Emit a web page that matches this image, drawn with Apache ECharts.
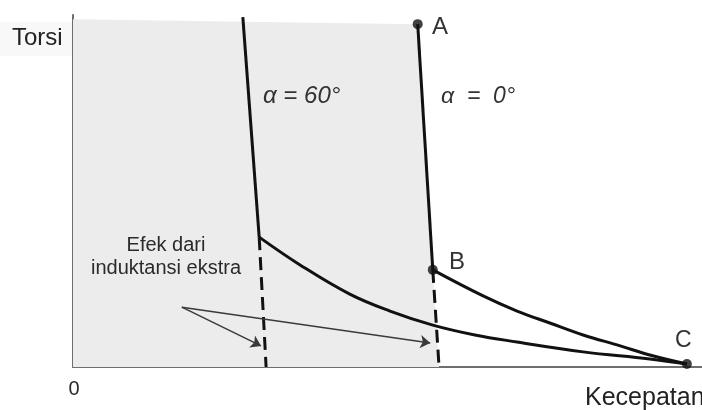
<!DOCTYPE html>
<html>
<head>
<meta charset="utf-8">
<script src="https://cdn.jsdelivr.net/npm/echarts@6/dist/echarts.min.js"></script>
<style>
  html, body { margin: 0; padding: 0; background: #ffffff; }
  #chart { width: 702px; height: 410px; }
</style>
</head>
<body>
<div id="chart"></div>
<script>
// Speed (x) and torque (y) on a 0..100 relative scale
const axisRange = { min: 0, max: 100 };

// Region of operation bounded by the alpha = 0° characteristic
const shadedRegion = [[0, 98.8], [54.8, 97.4], [57.2, 27.6], [58.2, 0]];

// alpha = 0° characteristic: A -> B (steep), B -> C (constant power), extra-inductance branch
const alpha0Steep = [[54.8, 97.4], [57.2, 27.6]];
const alpha0Dashed = [[57.2, 27.6], [58.2, 0]];
const alpha0Curve = [[57.2, 27.6], [65.2, 20.2], [70.6, 15.9], [75.8, 12.5], [81.1, 9.1], [87.0, 6.0], [91.7, 3.4], [97.6, 0.85]];

// alpha = 60° characteristic
const alpha60Steep = [[27.0, 99.4], [29.6, 36.9]];
const alpha60Dashed = [[29.6, 36.9], [30.7, 0]];
const alpha60Curve = [[29.6, 36.9], [36.1, 29.0], [44.0, 20.7], [50.4, 15.9], [57.2, 11.9], [63.9, 9.1], [70.6, 7.1], [81.1, 4.3], [91.7, 2.3], [97.6, 0.85]];

// Marked operating points
const pointNames = ['A', 'B', 'C'];
const pointValues = [[54.8, 97.4], [57.2, 27.6], [97.6, 0.85]];

// Annotation arrows (from the caption towards both dashed branches)
const arrowStart = [17.3, 17.0];
const arrowEnds = [[29.9, 6.0], [56.8, 6.8]];

const FONT = '"Liberation Sans", Arial, Helvetica, sans-serif';
const INK = '#111111';

const chart = echarts.init(document.getElementById('chart'), null, { renderer: 'canvas' });

function stroke(data, dashed, smooth) {
  return {
    type: 'line',
    data: data,
    showSymbol: false,
    symbol: 'none',
    smooth: smooth ? 0.4 : false,
    silent: true,
    z: 3,
    lineStyle: { color: INK, width: 3, type: dashed ? [13, 7] : 'solid', cap: 'butt' }
  };
}

function label(text, x, y, size, extra) {
  return {
    type: 'text', z: 100, silent: true,
    style: Object.assign({ text: text, x: x, y: y, font: size + 'px ' + FONT, fill: '#2a2a2a', verticalAlign: 'middle' }, extra || {})
  };
}

const option = {
  animation: false,
  backgroundColor: '#ffffff',
  grid: { left: 73, right: 0, top: 15, bottom: 43, containLabel: false },
  xAxis: {
    type: 'value', min: axisRange.min, max: axisRange.max,
    axisLine: { show: true, onZero: false, lineStyle: { color: '#6e6e6e', width: 2 } },
    axisTick: { show: false }, axisLabel: { show: false }, splitLine: { show: false }
  },
  yAxis: {
    type: 'value', min: axisRange.min, max: axisRange.max,
    axisLine: { show: true, onZero: false, lineStyle: { color: '#6e6e6e', width: 2 } },
    axisTick: { show: false }, axisLabel: { show: false }, splitLine: { show: false }
  },
  series: [
    {
      type: 'line', data: shadedRegion, symbol: 'none', silent: true, z: 1,
      lineStyle: { width: 0 },
      areaStyle: { color: '#ececec', opacity: 1 }
    },
    stroke(alpha0Steep),
    stroke(alpha0Dashed, true),
    stroke(alpha0Curve, false, true),
    stroke(alpha60Steep),
    stroke(alpha60Dashed, true),
    stroke(alpha60Curve, false, true),
    {
      type: 'lines', coordinateSystem: 'cartesian2d', silent: true, z: 4,
      symbol: ['none', 'arrow'], symbolSize: 10,
      lineStyle: { color: '#3a3a3a', width: 1.5, opacity: 1 },
      data: arrowEnds.map(e => ({ coords: [arrowStart, e] }))
    },
    {
      type: 'scatter', silent: true, z: 5,
      symbol: 'circle', symbolSize: 10,
      itemStyle: { color: INK },
      data: pointNames.map((n, i) => ({ name: n, value: pointValues[i] }))
    }
  ],
  graphic: [
    { type: 'rect', z: 0, silent: true, shape: { x: 0, y: 22, width: 72, height: 34 }, style: { fill: '#f8f8f8' } },
    label('Torsi', 12, 38, 24, { fill: '#222' }),
    label('0', 74, 389, 20, { align: 'center' }),
    label('Kecepatan', 585, 398, 25, { fill: '#222' }),
    label('α = 60°', 263, 96, 24, { font: 'italic 24px ' + FONT, fill: '#333' }),
    label('α  =  0°', 441, 97, 23, { font: 'italic 23px ' + FONT, fill: '#333' }),
    label('Efek dari', 166, 245, 20, { align: 'center' }),
    label('induktansi ekstra', 166, 268, 20, { align: 'center' }),
    label('A', 432, 27, 24, { fill: '#333' }),
    label('B', 449, 262, 24, { fill: '#333' }),
    label('C', 675, 341, 23, { fill: '#333' })
  ]
};

chart.setOption(option);
</script>
</body>
</html>
